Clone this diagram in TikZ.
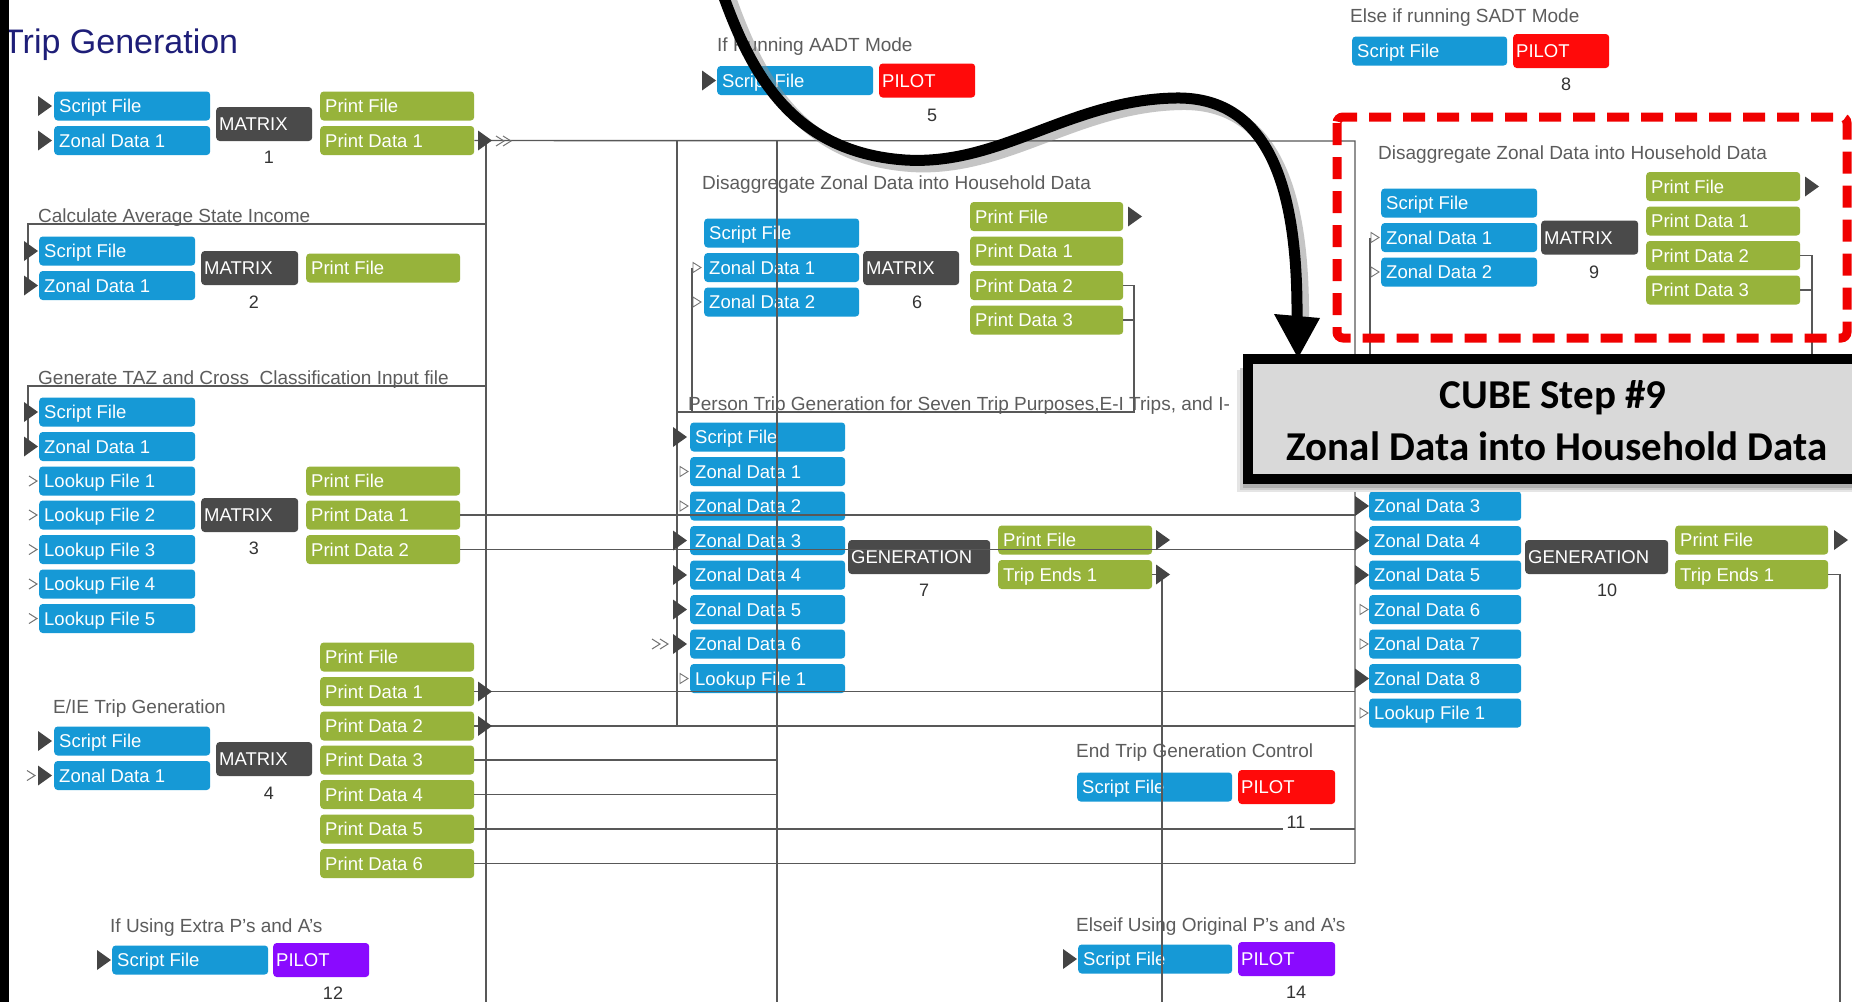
\documentclass[tikz,border=0pt]{standalone}
\usepackage{fontspec}
\setmainfont{Liberation Sans}
\newfontfamily\calloutfont{Carlito}
\usetikzlibrary{calc}

\definecolor{fileblue}{HTML}{1699D6}
\definecolor{printgreen}{HTML}{97B33B}
\definecolor{progray}{HTML}{4A4A4A}
\definecolor{pilotred}{HTML}{FF0A0A}
\definecolor{pilotpurple}{HTML}{8A0AFF}
\definecolor{wire}{HTML}{585858}
\definecolor{labelgray}{HTML}{5C5C5C}
\definecolor{titlenavy}{HTML}{1E1E78}
\definecolor{tipgray}{HTML}{444444}
\definecolor{cubefill}{HTML}{D9D9D9}
\definecolor{dashred}{HTML}{F00000}

\tikzset{
  x=1pt, y=-1pt,
  unitbox/.style={rounded corners=3.5pt, minimum height=29pt, inner sep=0pt, anchor=west},
  progbox/.style={unitbox, minimum height=34pt},
  boxtext/.style={anchor=base west, text=white, inner sep=0pt,
    font=\fontsize{18.5}{20}\selectfont},
  grouplabel/.style={anchor=base west, text=labelgray, inner sep=0pt,
    font=\fontsize{19}{22}\selectfont},
  stepno/.style={text=black!80, inner sep=0pt, font=\fontsize{18}{20}\selectfont},
  wireline/.style={draw=wire, line width=1.4pt},
  chevron/.style={draw=black!55, line width=1pt},
}

% file / data box: name, colour, left x, centre y, width, text
\newcommand\mkbox[6]{%
  \node[unitbox, fill=#2, minimum width=#5pt] (#1) at (#3,#4) {};
  \node[boxtext] (#1-t) at ([xshift=5pt,yshift=-6.6pt]#1.west) {#6};}
% program box (MATRIX, GENERATION, PILOT)
\newcommand\mkprog[6]{%
  \node[progbox, fill=#2, minimum width=#5pt] (#1) at (#3,#4) {};
  \node[boxtext] (#1-t) at ([xshift=3pt,yshift=-6.6pt]#1.west) {#6};}
% filled port triangle, left x and centre y
\newcommand\tipin[2]{\fill[tipgray] (#1,#2) ++(0,-10) -- ++(14,10) -- ++(-14,10) -- cycle;}
% open chevron
\newcommand\chev[2]{\draw[chevron] (#1,#2) ++(0,-5) -- ++(8,5) -- ++(-8,5);}
% small open triangle
\newcommand\opentip[2]{\draw[chevron, line width=0.9pt] (#1,#2) ++(0,-5) -- ++(8,5) -- ++(-8,5) -- cycle;}

\begin{document}
\begin{tikzpicture}
\useasboundingbox (0,0) rectangle (1852,1002);
\fill[white] (0,0) rectangle (1852,1002);
\clip (0,0) rectangle (1852,1002);

% ---------- title ----------
\node[anchor=base west, inner sep=0pt, text=titlenavy,
      font=\fontsize{34}{36}\selectfont] (title) at (3,53) {Trip Generation};

% ---------- step 1 ----------
\mkbox{s1sf}{fileblue}{54}{106}{156}{Script File}
\mkbox{s1zd}{fileblue}{54}{140.5}{156}{Zonal Data 1}
\mkprog{s1mx}{progray}{216}{124}{96}{MATRIX}
\mkbox{s1pf}{printgreen}{320}{106}{154}{Print File}
\mkbox{s1pd}{printgreen}{320}{140.5}{154}{Print Data 1}
\node[stepno] (s1no) at (269,157) {1};

% ---------- step 2 ----------
\node[grouplabel] (lab2) at (38,222) {Calculate Average State Income};
\mkbox{s2sf}{fileblue}{39}{251}{156}{Script File}
\mkbox{s2zd}{fileblue}{39}{285.5}{156}{Zonal Data 1}
\mkprog{s2mx}{progray}{201}{268}{97}{MATRIX}
\mkbox{s2pf}{printgreen}{306}{268}{154}{Print File}
\node[stepno] (s2no) at (254,302) {2};

% ---------- step 3 ----------
\node[grouplabel] (lab3) at (38,384) {Generate TAZ and Cross\ \ Classification Input file};
\mkbox{s3sf}{fileblue}{39}{412}{156}{Script File}
\mkbox{s3zd}{fileblue}{39}{446.5}{156}{Zonal Data 1}
\mkbox{s3l1}{fileblue}{39}{481}{156}{Lookup File 1}
\mkbox{s3l2}{fileblue}{39}{515}{156}{Lookup File 2}
\mkbox{s3l3}{fileblue}{39}{549.5}{156}{Lookup File 3}
\mkbox{s3l4}{fileblue}{39}{584}{156}{Lookup File 4}
\mkbox{s3l5}{fileblue}{39}{618.5}{156}{Lookup File 5}
\mkprog{s3mx}{progray}{201}{515}{97}{MATRIX}
\mkbox{s3pf}{printgreen}{306}{481}{154}{Print File}
\mkbox{s3p1}{printgreen}{306}{515}{154}{Print Data 1}
\mkbox{s3p2}{printgreen}{306}{549.5}{154}{Print Data 2}
\node[stepno] (s3no) at (254,548) {3};

% ---------- step 4 ----------
\node[grouplabel] (lab4) at (53,713) {E/IE Trip Generation};
\mkbox{s4sf}{fileblue}{54}{741}{156}{Script File}
\mkbox{s4zd}{fileblue}{54}{775.5}{156}{Zonal Data 1}
\mkprog{s4mx}{progray}{216}{759}{96}{MATRIX}
\mkbox{s4pf}{printgreen}{320}{657}{154}{Print File}
\mkbox{s4p1}{printgreen}{320}{691.5}{154}{Print Data 1}
\mkbox{s4p2}{printgreen}{320}{726}{154}{Print Data 2}
\mkbox{s4p3}{printgreen}{320}{760}{154}{Print Data 3}
\mkbox{s4p4}{printgreen}{320}{794.5}{154}{Print Data 4}
\mkbox{s4p5}{printgreen}{320}{829}{154}{Print Data 5}
\mkbox{s4p6}{printgreen}{320}{863.5}{154}{Print Data 6}
\node[stepno] (s4no) at (269,793) {4};

% ---------- step 12 ----------
\node[grouplabel] (lab12) at (110,932) {If Using Extra P's and A's};
\mkbox{s12sf}{fileblue}{112}{960}{156}{Script File}
\mkprog{s12pl}{pilotpurple}{273}{960}{96}{PILOT}
\node[stepno] (s12no) at (333,993) {12};

% ---------- step 5 ----------
\node[grouplabel] (lab5) at (717,51) {If Running AADT Mode};
\mkbox{s5sf}{fileblue}{717}{80.5}{156}{Script File}
\mkprog{s5pl}{pilotred}{879}{80.5}{96}{PILOT}
\node[stepno] (s5no) at (932,115) {5};

% ---------- step 6 ----------
\node[grouplabel] (lab6) at (702,189) {Disaggregate Zonal Data into Household Data};
\mkbox{s6sf}{fileblue}{704}{233}{155}{Script File}
\mkbox{s6z1}{fileblue}{704}{267.5}{155}{Zonal Data 1}
\mkbox{s6z2}{fileblue}{704}{302}{155}{Zonal Data 2}
\mkprog{s6mx}{progray}{863}{268}{96}{MATRIX}
\mkbox{s6pf}{printgreen}{970}{216.5}{153}{Print File}
\mkbox{s6p1}{printgreen}{970}{251}{153}{Print Data 1}
\mkbox{s6p2}{printgreen}{970}{285.5}{153}{Print Data 2}
\mkbox{s6p3}{printgreen}{970}{320}{153}{Print Data 3}
\node[stepno] (s6no) at (917,302) {6};

% ---------- step 7 ----------
\node[grouplabel] (lab7) at (688,410) {Person Trip Generation for Seven Trip Purposes,E-I Trips, and I-};
\mkbox{s7sf}{fileblue}{690}{437}{155}{Script File}
\mkbox{s7z1}{fileblue}{690}{471.5}{155}{Zonal Data 1}
\mkbox{s7z2}{fileblue}{690}{506}{155}{Zonal Data 2}
\mkbox{s7z3}{fileblue}{690}{540.5}{155}{Zonal Data 3}
\mkbox{s7z4}{fileblue}{690}{575}{155}{Zonal Data 4}
\mkbox{s7z5}{fileblue}{690}{609.5}{155}{Zonal Data 5}
\mkbox{s7z6}{fileblue}{690}{644}{155}{Zonal Data 6}
\mkbox{s7l1}{fileblue}{690}{678.5}{155}{Lookup File 1}
\mkprog{s7gn}{progray}{848}{557}{142}{GENERATION}
\mkbox{s7pf}{printgreen}{998}{540}{154}{Print File}
\mkbox{s7te}{printgreen}{998}{574.5}{154}{Trip Ends 1}
\node[stepno] (s7no) at (924,590) {7};

% ---------- step 8 ----------
\node[grouplabel] (lab8) at (1350,22) {Else if running SADT Mode};
\mkbox{s8sf}{fileblue}{1352}{51}{155}{Script File}
\mkprog{s8pl}{pilotred}{1513}{51}{96}{PILOT}
\node[stepno] (s8no) at (1566,84) {8};

% ---------- step 9 ----------
\node[grouplabel] (lab9) at (1378,159) {Disaggregate Zonal Data into Household Data};
\mkbox{s9sf}{fileblue}{1381}{203}{156}{Script File}
\mkbox{s9z1}{fileblue}{1381}{237.5}{156}{Zonal Data 1}
\mkbox{s9z2}{fileblue}{1381}{272}{156}{Zonal Data 2}
\mkprog{s9mx}{progray}{1541}{237.5}{97}{MATRIX}
\mkbox{s9pf}{printgreen}{1646}{186.5}{154}{Print File}
\mkbox{s9p1}{printgreen}{1646}{221}{154}{Print Data 1}
\mkbox{s9p2}{printgreen}{1646}{255.5}{154}{Print Data 2}
\mkbox{s9p3}{printgreen}{1646}{290}{154}{Print Data 3}
\node[stepno] (s9no) at (1594,272) {9};

% ---------- step 10 ----------
\mkbox{s10z3}{fileblue}{1369}{506}{152}{Zonal Data 3}
\mkbox{s10z4}{fileblue}{1369}{540.5}{152}{Zonal Data 4}
\mkbox{s10z5}{fileblue}{1369}{575}{152}{Zonal Data 5}
\mkbox{s10z6}{fileblue}{1369}{609.5}{152}{Zonal Data 6}
\mkbox{s10z7}{fileblue}{1369}{644}{152}{Zonal Data 7}
\mkbox{s10z8}{fileblue}{1369}{678.5}{152}{Zonal Data 8}
\mkbox{s10l1}{fileblue}{1369}{713}{152}{Lookup File 1}
\mkprog{s10gn}{progray}{1525}{557}{143}{GENERATION}
\mkbox{s10pf}{printgreen}{1675}{540}{153}{Print File}
\mkbox{s10te}{printgreen}{1675}{574.5}{153}{Trip Ends 1}
\node[stepno] (s10no) at (1607,590) {10};

% ---------- step 11 ----------
\node[grouplabel] (lab11) at (1076,757) {End Trip Generation Control};
\mkbox{s11sf}{fileblue}{1077}{787}{155}{Script File}
\mkprog{s11pl}{pilotred}{1238}{787}{97}{PILOT}
\node[stepno] (s11no) at (1296,822) {11};

% ---------- step 14 ----------
\node[grouplabel] (lab14) at (1076,931) {Elseif Using Original P's and A's};
\mkbox{s14sf}{fileblue}{1078}{959}{154}{Script File}
\mkprog{s14pl}{pilotpurple}{1238}{959}{97}{PILOT}
\node[stepno] (s14no) at (1296,992) {14};

% ---------- connector junctions ----------
\coordinate (busA) at (486,141);
\coordinate (busB) at (677,141);
\coordinate (busC) at (777,141);
\coordinate (busD) at (1355,141);
\coordinate (busDend) at (1355,863.5);

% ---------- connectors ----------
\draw[wireline] (s1pd.east) -- (busD) -- (busDend);
\draw[wireline] (busA) -- (486,1002);
\draw[wireline] (busB) -- (677,726);
\draw[wireline] (busC) -- (777,1002);
\draw[wireline] (486,224) -- (28,224) -- (28,292);
\draw[wireline] (486,386) -- (28,386) -- (28,453);
% step 6 inputs and outputs
\draw[wireline] (692,267.5) -- (692,412);
\draw[wireline] (677,412) -- (1134,412) -- (1134,285.5) -- (s6p2.east);
\draw[wireline] (1134,320) -- (s6p3.east);
% step 3 prints
\draw[wireline] (s3p1.east) -- (1355,515);
\draw[wireline] (s3p2.east) -- (1355,549.5);
% step 4 prints
\draw[wireline] (s4p1.east) -- (1355,691.5);
\draw[wireline] (s4p2.east) -- (1355,726);
\draw[wireline] (s4p3.east) -- (777,760);
\draw[wireline] (s4p4.east) -- (777,794.5);
\draw[wireline] (s4p5.east) -- (1283,829);
\draw[wireline] (1310,829) -- (1355,829);
\draw[wireline] (s4p6.east) -- (busDend);
% step 7 trip ends
\draw[wireline] (s7te.east) -- (1162,574.5) -- (1162,1002);
% step 9 inputs and outputs
\draw[wireline] (1370,237.5) -- (1370,485);
\draw[wireline] (s9p2.east) -- (1812,255.5) -- (1812,365);
\draw[wireline] (s9p3.east) -- (1812,290);
% step 10 trip ends
\draw[wireline] (s10te.east) -- (1840,574.5) -- (1840,1002);

% ---------- ports ----------
\tipin{38}{106} \tipin{38}{140.5}
\tipin{478}{140.5} \chev{496}{141} \chev{503}{141}
\tipin{24}{251} \tipin{24}{285.5}
\tipin{24}{412} \tipin{24}{446.5}
\chev{29}{481} \chev{29}{515} \chev{29}{549.5} \chev{29}{584} \chev{29}{618.5}
\tipin{38}{741} \chev{27}{775.5} \tipin{38}{775.5}
\tipin{478}{691.5} \tipin{478}{726}
\tipin{97}{960}
\tipin{702}{80.5}
\opentip{693}{267.5} \opentip{693}{302}
\tipin{1128}{216.5}
\tipin{673}{437} \opentip{680}{471.5} \opentip{680}{506}
\tipin{673}{540.5} \tipin{673}{575} \tipin{673}{609.5} \tipin{673}{644}
\chev{652}{644} \chev{660}{644}
\opentip{680}{678.5}
\tipin{1156}{540} \tipin{1156}{574.5}
\opentip{1371}{237.5} \opentip{1371}{272}
\tipin{1805}{186.5}
\tipin{1355}{506} \tipin{1355}{540.5} \tipin{1355}{575}
\opentip{1360}{609.5} \opentip{1360}{644}
\tipin{1355}{678.5} \opentip{1360}{713}
\tipin{1834}{540}
\tipin{1063}{959}

% ---------- highlight frame around step 9 ----------
\draw[dashred, line width=9pt, dash pattern=on 22pt off 12pt, rounded corners=6pt]
  (1337,117) rectangle (1847,338);

% ---------- callout ----------
\fill[black!10] (1237,370) rectangle (1870,492);
\fill[black!20] (1240,368) rectangle (1870,490);
\fill[black!32] (1243,366) rectangle (1870,488);
\draw[black, line width=10pt, fill=cubefill] (1248,359) rectangle (1880,479);
\node[anchor=base, inner sep=0pt, font=\calloutfont\bfseries\fontsize{41}{44}\selectfont]
  (cubeA) at (1553,408) {CUBE Step \#9};
\node[anchor=base, inner sep=0pt, font=\calloutfont\bfseries\fontsize{41}{44}\selectfont]
  (cubeB) at (1557,460) {Zonal Data into Household Data};

% ---------- pointer curve ----------
\draw[black!45, opacity=0.5, line width=12pt]
  (728,-8) .. controls (756,72) and (796,158) .. (911,166)
  .. controls (1006,172) and (1076,106) .. (1181,104)
  .. controls (1281,102) and (1304,206) .. (1303,322);
\draw[black, line width=11pt]
  (722,-8) .. controls (750,70) and (790,152) .. (905,160)
  .. controls (1000,166) and (1070,100) .. (1175,98)
  .. controls (1275,96) and (1298,200) .. (1297,320);
\fill[black] (1274,314) -- (1320,318) -- (1298,358) -- cycle;

% ---------- left frame bar ----------
\fill[black] (0,0) rectangle (9,1002);
\end{tikzpicture}
\end{document}
